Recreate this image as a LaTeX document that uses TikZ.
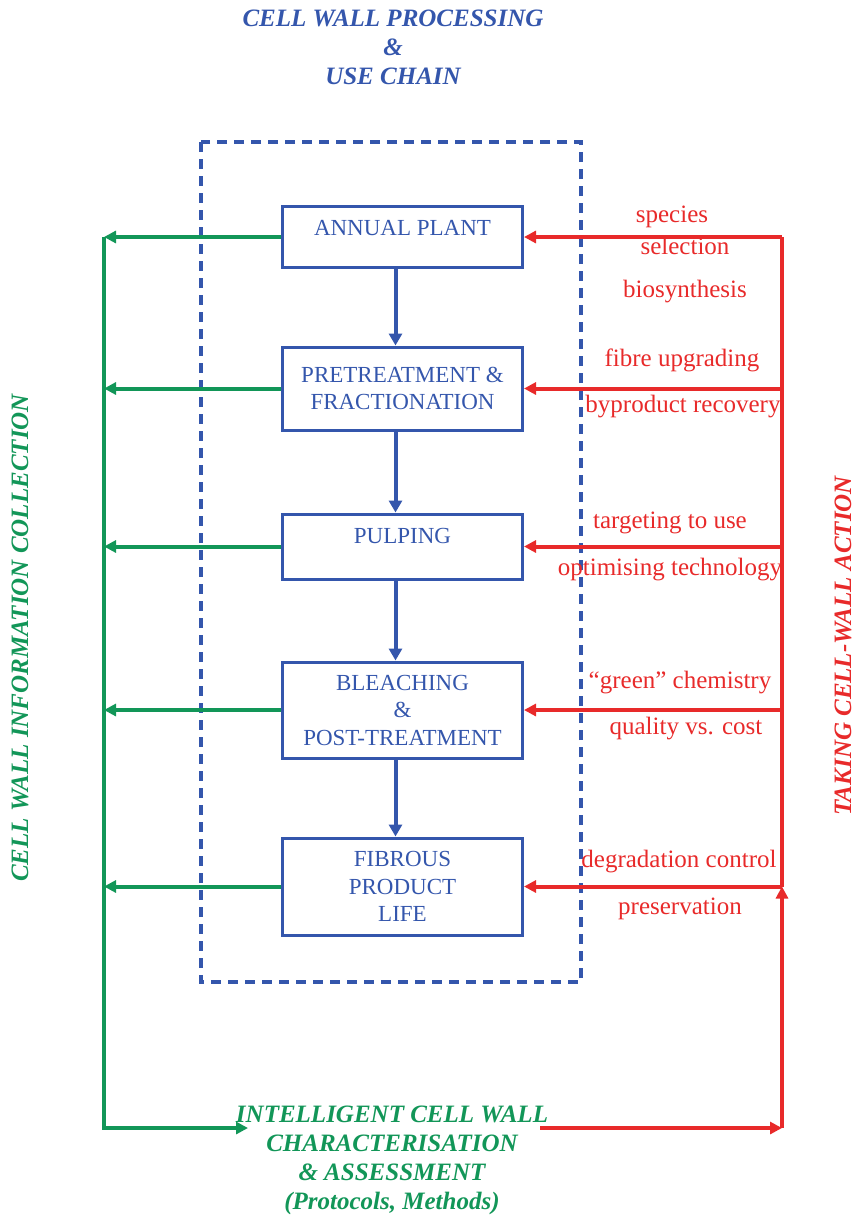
\documentclass[tikz,border=0pt]{standalone}
\usepackage{fontspec}
\setmainfont{Liberation Serif}
\usetikzlibrary{arrows.meta}
\definecolor{chainblue}{RGB}{52,86,172}
\definecolor{infogreen}{RGB}{18,150,88}
\definecolor{actred}{RGB}{232,42,42}
\begin{document}
\begin{tikzpicture}[x=0.5pt,y=-0.5pt,
    stage/.style={rectangle,draw=chainblue,line width=1.5pt,text=chainblue,minimum width=120pt,
        inner sep=0pt,align=center,font=\fontsize{11.5}{13.75}\selectfont},
    heading/.style={align=center,font=\fontsize{12.5}{14.5}\selectfont\bfseries\itshape},
    note/.style={text=actred,inner sep=0pt,font=\fontsize{12.5}{15}\selectfont},
    tip/.style={-{Triangle[length=6pt,width=6pt]}},
    flow/.style={draw=chainblue,line width=2pt,-{Triangle[length=6pt,width=6.5pt]}},
    info/.style={draw=infogreen,line width=2pt},
    act/.style={draw=actred,line width=2pt}]
        \useasboundingbox (0,0) rectangle (856,1217);
        \node[heading,text=chainblue] (head) at (393,47) {CELL WALL PROCESSING\\\&\\USE CHAIN};
        \draw[chainblue,line width=1.6pt,dash pattern=on 5pt off 3.5pt] (201,142) rectangle (581,982);
        \node[stage,minimum height=30.5pt,text depth=9.5pt] (plant) at (402.5,237) {ANNUAL PLANT};
        \node[stage,minimum height=41.5pt] (pretreat) at (402.5,388.5) {PRETREATMENT \&\\FRACTIONATION};
        \node[stage,minimum height=32.5pt,text depth=11pt] (pulping) at (402.5,546.5) {PULPING};
        \node[stage,minimum height=48pt] (bleach) at (402.5,710) {BLEACHING\\\&\\POST-TREATMENT};
        \node[stage,minimum height=48.5pt] (life) at (402.5,886.5) {FIBROUS\\PRODUCT\\LIFE};
        \foreach \a/\b in {plant/pretreat,pretreat/pulping,pulping/bleach,bleach/life}
            \draw[flow] ([xshift=-3.5pt]\a.south) -- ([xshift=-3.5pt]\b.north);
        % information side
        \coordinate (gbot) at (104,1128);\coordinate (gend) at (248,1128);
        \foreach \s in {plant,pretreat,pulping,bleach,life}
            \draw[info,tip] (\s.west) -- (\s.west -| gbot);
        \draw[info,tip] (plant.west -| gbot) -- (gbot) -- (gend);
        \node[heading,text=infogreen,rotate=90] (collect) at (20,638) {CELL WALL INFORMATION COLLECTION};
        \node[heading,text=infogreen] (intel) at (392,1160) {INTELLIGENT CELL WALL\\CHARACTERISATION\\\& ASSESSMENT\\(Protocols, Methods)};
        % action side
        \coordinate (rstart) at (540,1128);\coordinate (rbot) at (782,1128);
        \foreach \s in {plant,pretreat,pulping,bleach,life}
            \draw[act,tip] (\s.east -| rbot) -- (\s.east);
        \draw[act] (life.east -| rbot) -- (plant.east -| rbot);
        \draw[act,tip] (rstart) -- (rbot);
        \draw[act,tip] (rbot) -- (life.east -| rbot);
        \node[heading,text=actred,rotate=90] (action) at (843,646) {TAKING CELL-WALL ACTION};
        \node[note] (species) at (672,217) {species};
        \node[note] (select) at (685,246) {selection};
        \node[note] (biosyn) at (685,292) {biosynthesis};
        \node[note] (upgrade) at (682,360) {fibre upgrading};
        \node[note] (byprod) at (683,407) {byproduct recovery};
        \node[note] (target) at (670,523) {targeting to use};
        \node[note] (optim) at (670,570) {optimising technology};
        \node[note] (green) at (680,683) {``green'' chemistry};
        \node[note] (quality) at (686,729) {quality vs. cost};
        \node[note] (degrade) at (679,862) {degradation control};
        \node[note] (preserve) at (680,909) {preservation};
    \end{tikzpicture}
\end{document}
